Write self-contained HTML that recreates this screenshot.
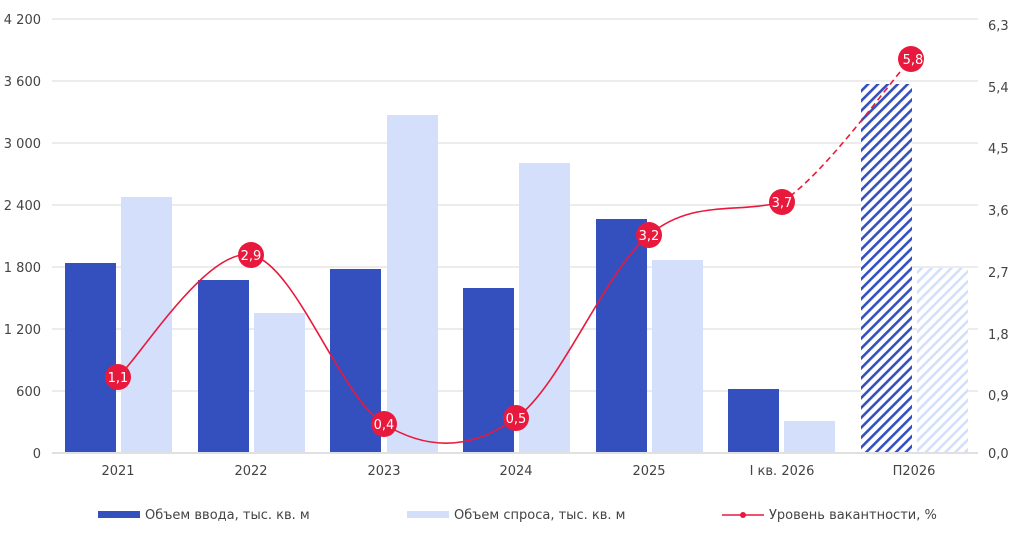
<!DOCTYPE html>
<html><head><meta charset="utf-8"><style>
html,body{margin:0;padding:0;background:#fff}
svg{display:block;font-family:"DejaVu Sans","Liberation Sans",sans-serif}
</style></head><body>
<svg width="1032" height="535" viewBox="0 0 1032 535">
<defs>
<pattern id="hd" patternUnits="userSpaceOnUse" width="7" height="7" patternTransform="rotate(45)">
<rect width="7" height="7" fill="#fff"/><rect x="0" y="0" width="2.6" height="7" fill="#3450be"/></pattern>
<pattern id="hl" patternUnits="userSpaceOnUse" width="7" height="7" patternTransform="rotate(45)">
<rect width="7" height="7" fill="#fff"/><rect x="0" y="0" width="2.6" height="7" fill="#d4e0fb"/></pattern>
</defs>
<g stroke="#e6e6e6" stroke-width="1.5">
<line x1="52" x2="978" y1="19" y2="19"/><line x1="52" x2="978" y1="81" y2="81"/>
<line x1="52" x2="978" y1="143" y2="143"/><line x1="52" x2="978" y1="205" y2="205"/>
<line x1="52" x2="978" y1="267" y2="267"/><line x1="52" x2="978" y1="329" y2="329"/>
<line x1="52" x2="978" y1="391" y2="391"/>
</g>
<g font-size="13" fill="#444" text-anchor="end">
<text x="41" y="24">4 200</text><text x="41" y="86">3 600</text><text x="41" y="148">3 000</text>
<text x="41" y="210">2 400</text><text x="41" y="272">1 800</text><text x="41" y="334">1 200</text>
<text x="41" y="396">600</text><text x="41" y="458">0</text>
</g>
<g font-size="13" fill="#444" text-anchor="start">
<text x="988" y="30">6,3</text><text x="988" y="92">5,4</text><text x="988" y="153">4,5</text>
<text x="988" y="215">3,6</text><text x="988" y="277">2,7</text><text x="988" y="339">1,8</text>
<text x="988" y="400">0,9</text><text x="988" y="458">0,0</text>
</g>
<g fill="#3450be">
<rect x="65" y="263" width="51" height="190"/><rect x="198" y="280" width="51" height="173"/>
<rect x="330" y="269" width="51" height="184"/><rect x="463" y="288" width="51" height="165"/>
<rect x="596" y="219" width="51" height="234"/><rect x="728" y="389" width="51" height="64"/>
</g>
<g fill="#d4e0fb">
<rect x="121" y="197" width="51" height="256"/><rect x="254" y="313" width="51" height="140"/>
<rect x="387" y="115" width="51" height="338"/><rect x="519" y="163" width="51" height="290"/>
<rect x="652" y="260" width="51" height="193"/><rect x="784" y="421" width="51" height="32"/>
</g>
<rect x="861" y="84" width="51" height="369" fill="url(#hd)"/>
<rect x="917" y="268" width="51" height="185" fill="url(#hl)"/>
<line x1="52" x2="978" y1="453" y2="453" stroke="#e0e0e0" stroke-width="2"/>
<g font-size="13" fill="#444" text-anchor="middle">
<text x="118" y="475">2021</text><text x="251" y="475">2022</text><text x="384" y="475">2023</text>
<text x="516" y="475">2024</text><text x="649" y="475">2025</text><text x="782" y="475">I кв. 2026</text>
<text x="914" y="475">П2026</text>
</g>
<path d="M118,377 C140,357 207,247 251,255 C295,263 340,397 384,424 C428,451 472,450 516,418 C560,387 605,271 649,235 C693,199 735,214 782,202" fill="none" stroke="#e8193c" stroke-width="1.6"/>
<path d="M782,202 C826,173 889,83 911,59" fill="none" stroke="#e8193c" stroke-width="1.6" stroke-dasharray="6,4"/>
<g fill="#e8193c">
<circle cx="118" cy="377" r="13"/><circle cx="251" cy="255" r="13"/><circle cx="384" cy="424" r="13"/>
<circle cx="516" cy="418" r="13"/><circle cx="649" cy="235" r="13"/><circle cx="782" cy="202" r="13"/>
<circle cx="911" cy="59" r="13"/>
</g>
<g font-size="13" fill="#fff" text-anchor="middle">
<text x="118" y="382">1,1</text><text x="251" y="260">2,9</text><text x="384" y="429">0,4</text>
<text x="516" y="423">0,5</text><text x="649" y="240">3,2</text><text x="782" y="207">3,7</text>
<text x="913" y="64">5,8</text>
</g>
<rect x="98" y="511" width="42" height="7" fill="#3450be"/>
<rect x="407" y="511" width="42" height="7" fill="#d4e0fb"/>
<line x1="722" x2="764" y1="515" y2="515" stroke="#e8193c" stroke-width="1.6"/>
<circle cx="743" cy="515" r="3" fill="#e8193c"/>
<g font-size="13" fill="#444">
<text x="145" y="519">Объем ввода, тыс. кв. м</text>
<text x="454" y="519">Объем спроса, тыс. кв. м</text>
<text x="769" y="519">Уровень вакантности, %</text>
</g>
</svg>
</body></html>
